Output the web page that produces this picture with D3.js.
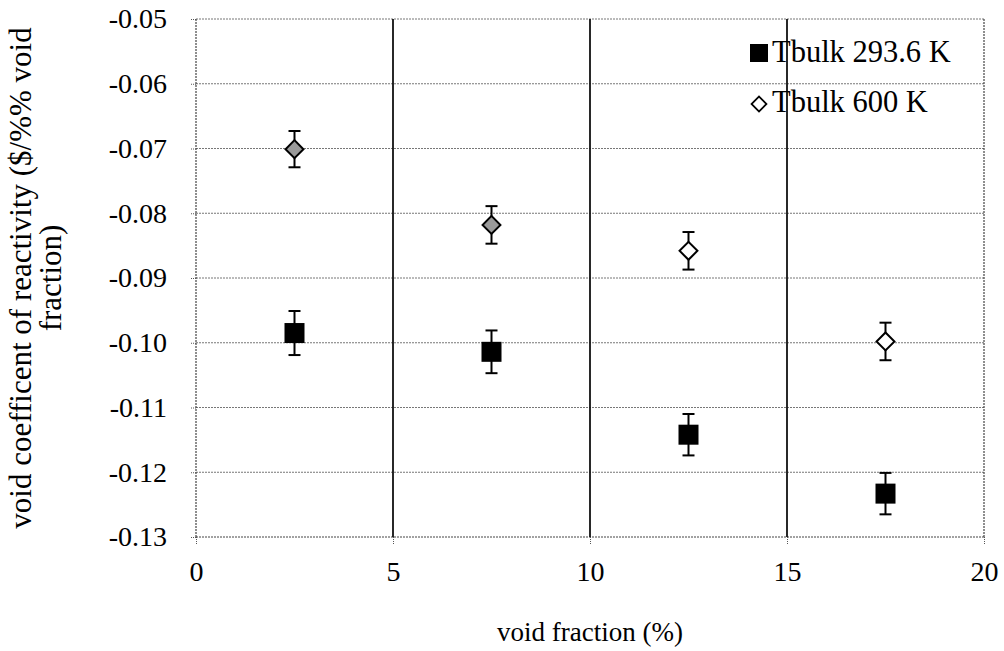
<!DOCTYPE html>
<html><head><meta charset="utf-8">
<script src="https://cdn.jsdelivr.net/npm/d3@7"></script>
<style>body{margin:0;background:#fff}</style>
</head><body>
<svg id="c" width="1004" height="651"></svg>
<script>
const voidFraction = [2.5, 7.5, 12.5, 17.5];
const seriesNames = ["Tbulk 293.6 K", "Tbulk 600 K"];
const cold = [-0.0985, -0.1014, -0.1142, -0.1233];
const coldErr = [0.0034, 0.0033, 0.0032, 0.0032];
const hot = [-0.0701, -0.0818, -0.0858, -0.0998];
const hotErr = [0.0028, 0.0029, 0.0029, 0.0029];
const xTicks = [0, 5, 10, 15, 20];
const yTicks = [-0.05, -0.06, -0.07, -0.08, -0.09, -0.10, -0.11, -0.12, -0.13];
const yTickLabels = ["-0.05","-0.06","-0.07","-0.08","-0.09","-0.10","-0.11","-0.12","-0.13"];

const W = 1004, H = 651;
const m = {l:196, r:20, t:19, b:114};
const svg = d3.select("#c");
const x = d3.scaleLinear().domain([0,20]).range([m.l, W-m.r]);
const y = d3.scaleLinear().domain([-0.13,-0.05]).range([H-m.b, m.t]);
const font = "Liberation Serif, Times New Roman, serif";

// horizontal gridlines
svg.append("g").selectAll("line").data(yTicks).join("line")
  .attr("x1", x(0)).attr("x2", x(20))
  .attr("y1", d=>y(d)).attr("y2", d=>y(d))
  .attr("stroke", d => d===-0.13 ? "#444" : "#777").attr("stroke-width", 1)
  .attr("stroke-dasharray", "2,1");
// vertical gridlines
svg.append("g").selectAll("line").data(xTicks).join("line")
  .attr("x1", d=>x(d)).attr("x2", d=>x(d))
  .attr("y1", y(-0.05)).attr("y2", y(-0.13))
  .attr("stroke", d => (d===0||d===20) ? "#444" : "#111")
  .attr("stroke-width", d => (d===0||d===20) ? 1.2 : 1.8)
  .attr("stroke-dasharray", d => (d===0||d===20) ? "2,1" : null);

// axes
const yAxis = d3.axisLeft(y).tickValues(yTicks).tickFormat((d,i)=>yTickLabels[i]).tickSize(5).tickPadding(24);
const gy = svg.append("g").attr("transform", `translate(${x(0)},0)`).call(yAxis)
  .attr("font-family", font).attr("font-size", 28);
gy.select(".domain").remove();
gy.selectAll(".tick line").attr("stroke","#555").attr("stroke-dasharray","1,1");
gy.selectAll("text").style("font-family", font).attr("font-size", 28).attr("fill","#000");

const xAxis = d3.axisBottom(x).tickValues(xTicks).tickFormat(d3.format("d")).tickSize(8).tickPadding(16);
const gx = svg.append("g").attr("transform", `translate(0,${y(-0.13)})`).call(xAxis)
  .attr("font-family", font).attr("font-size", 28);
gx.select(".domain").remove();
gx.selectAll(".tick line").attr("stroke","#555").attr("stroke-dasharray","1,1");
gx.selectAll("text").style("font-family", font).attr("font-size", 28).attr("fill","#000");

// axis titles
svg.append("text").attr("x", x(10)).attr("y", 641).attr("text-anchor","middle")
  .style("font-family", font).attr("font-size", 27).text("void fraction (%)");
const yt = svg.append("text").attr("transform", `translate(31,${(y(-0.05)+y(-0.13))/2}) rotate(-90)`)
  .attr("text-anchor","middle").style("font-family", font).attr("font-size", 31);
yt.append("tspan").attr("x",0).attr("y",0).text("void coefficent of reactivity ($/%% void");
yt.append("tspan").attr("x",0).attr("y",30).text("fraction)");

// error bars
function errBars(vals, errs){
  const g = svg.append("g").attr("stroke","#000").attr("stroke-width",2);
  voidFraction.forEach((v,i)=>{
    const cx = x(v), y1 = y(vals[i]+errs[i]), y2 = y(vals[i]-errs[i]);
    g.append("line").attr("x1",cx).attr("x2",cx).attr("y1",y1).attr("y2",y2);
    g.append("line").attr("x1",cx-6).attr("x2",cx+6).attr("y1",y1).attr("y2",y1);
    g.append("line").attr("x1",cx-6).attr("x2",cx+6).attr("y1",y2).attr("y2",y2);
  });
}
errBars(cold, coldErr);
errBars(hot, hotErr);

// markers
svg.append("g").selectAll("rect").data(cold).join("rect")
  .attr("x",(d,i)=>x(voidFraction[i])-10).attr("y",d=>y(d)-10)
  .attr("width",20).attr("height",20).attr("fill","#000");
const diamond = d3.symbol().type(d3.symbolSquare).size(160);
svg.append("g").selectAll("path").data(hot).join("path")
  .attr("d", diamond)
  .attr("transform",(d,i)=>`translate(${x(voidFraction[i])},${y(d)}) rotate(45)`)
  .attr("fill",(d,i)=> i<2 ? "#9a9a9a" : "#fff")
  .attr("stroke","#000").attr("stroke-width",2);

// legend
const lg = svg.append("g");
lg.append("rect").attr("x",750).attr("y",44).attr("width",18).attr("height",18).attr("fill","#000");
lg.append("text").attr("x",772).attr("y",62).style("font-family",font).attr("font-size",30.5).text(seriesNames[0]);
lg.append("path").attr("d", d3.symbol().type(d3.symbolSquare).size(110))
  .attr("transform","translate(759,104) rotate(45)").attr("fill","#fff").attr("stroke","#000").attr("stroke-width",1.8);
lg.append("text").attr("x",772).attr("y",112).style("font-family",font).attr("font-size",30.5).text(seriesNames[1]);
</script>
</body></html>
